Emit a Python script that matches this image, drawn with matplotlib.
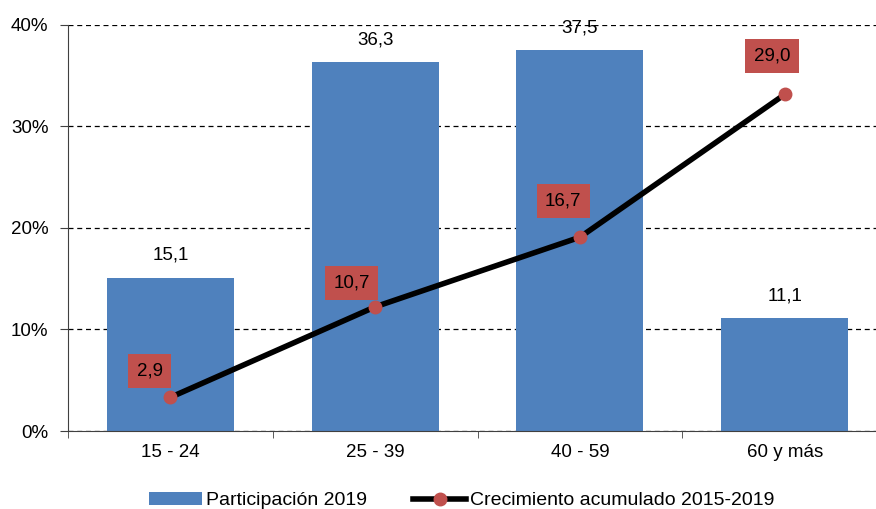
import matplotlib.pyplot as plt
import numpy as np

plt.rcParams["font.family"] = ["Liberation Sans", "DejaVu Sans"]

categories = ["15 - 24", "25 - 39", "40 - 59", "60 y más"]
participacion = [15.1, 36.3, 37.5, 11.1]
crecimiento = [2.9, 10.7, 16.7, 29.0]

# label offsets (points) for the growth labels
lab_off = [(-15, 19), (-17, 17), (-12, 26), (-9, 28)]


def fmt(v):
    return f"{v:.1f}".replace(".", ",")


fig = plt.figure(figsize=(8.76, 5.09), dpi=100)
ax = fig.add_axes([0.0776, 0.1532, 0.935, 0.798])
x = np.arange(len(categories))

bars = ax.bar(x, participacion, width=0.62, color="#4F81BD", zorder=2,
              label="Participación 2019")
for xi, v in zip(x, participacion):
    ax.annotate(fmt(v), (xi, v), textcoords="offset points", xytext=(0, 16),
                ha="center", va="center", fontsize=13.5)

ax.set_xlim(-0.5, 3.5)
ax.set_ylim(0, 40)
ax.set_yticks([0, 10, 20, 30, 40])
ax.set_yticklabels([f"{t}%" for t in [0, 10, 20, 30, 40]], fontsize=13.5)
ax.set_xticks(x)
ax.set_xticklabels(categories, fontsize=13.5)
ax.set_xticks(np.arange(-0.5, 4.0, 1.0), minor=True)
ax.tick_params(axis="x", which="major", length=0, pad=9)
ax.tick_params(axis="x", which="minor", length=5, color="#404040")
ax.tick_params(axis="y", length=6, color="#404040", pad=8)
ax.yaxis.grid(True, linestyle=(0, (4, 3)), color="black", linewidth=0.9, zorder=0)
for s in ["top", "right"]:
    ax.spines[s].set_visible(False)
ax.spines["left"].set_color("#404040")
ax.spines["bottom"].set_color("#404040")

ax2 = ax.twinx()
ax2.set_ylim(0, 35)
ax2.axis("off")
line, = ax2.plot(x, crecimiento, color="black", linewidth=4, marker="o",
                 markersize=9, markerfacecolor="#C0504D", markeredgecolor="#C0504D",
                 zorder=3, label="Crecimiento acumulado 2015-2019")
for xi, v, off in zip(x, crecimiento, lab_off):
    ax2.annotate(fmt(v), (xi, v), textcoords="offset points", xytext=off,
                 ha="center", va="center", fontsize=13.5,
                 bbox=dict(boxstyle="square,pad=0.45", fc="#C0504D", ec="none"))

fig.legend(handles=[bars, line], loc="lower center", ncol=2, frameon=False,
           fontsize=14, bbox_to_anchor=(0.527, -0.035), handlelength=2.7,
           handletextpad=0.2, columnspacing=2.4)

fig.savefig("out.png", dpi=100)
